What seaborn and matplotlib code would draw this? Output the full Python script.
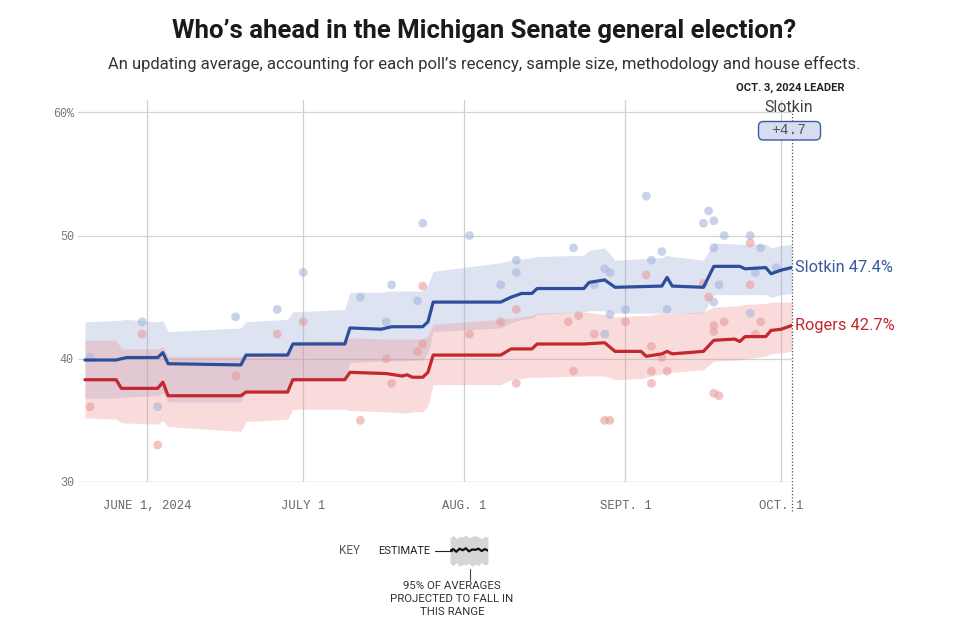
import matplotlib
matplotlib.use("Agg")
import matplotlib.pyplot as plt
from matplotlib.patches import FancyBboxPatch
import seaborn as sns
import pandas as pd

# ---------------- data ----------------
slotkin_dates = ["2024-05-20", "2024-05-26", "2024-05-28", "2024-06-03", "2024-06-04", "2024-06-05",
                 "2024-06-19", "2024-06-20", "2024-06-28", "2024-06-29", "2024-07-09", "2024-07-10",
                 "2024-07-16", "2024-07-18", "2024-07-24", "2024-07-25", "2024-07-26", "2024-08-08",
                 "2024-08-10", "2024-08-12", "2024-08-14", "2024-08-15", "2024-08-24", "2024-08-25",
                 "2024-08-28", "2024-08-30", "2024-09-08", "2024-09-09", "2024-09-10", "2024-09-16",
                 "2024-09-18", "2024-09-23", "2024-09-24", "2024-09-28", "2024-09-29", "2024-10-01",
                 "2024-10-03"]
slotkin_avg = [39.9, 39.9, 40.1, 40.1, 40.5, 39.6,
               39.5, 40.3, 40.3, 41.2, 41.2, 42.5,
               42.4, 42.6, 42.6, 43.0, 44.6, 44.6,
               45.0, 45.3, 45.3, 45.7, 45.7, 46.2,
               46.4, 45.8, 45.9, 46.6, 45.9, 45.8,
               47.5, 47.5, 47.3, 47.4, 46.9, 47.2,
               47.4]
slotkin_lo = [36.8, 36.8, 36.9, 37.0, 37.2, 36.5,
              36.5, 37.4, 37.5, 38.2, 38.3, 39.7,
              39.8, 39.8, 39.9, 40.5, 42.2, 42.5,
              42.9, 43.2, 43.3, 43.6, 43.8, 43.9,
              43.9, 43.7, 43.7, 43.8, 43.7, 43.7,
              45.2, 45.2, 45.2, 45.2, 45.0, 45.2,
              45.3]
slotkin_hi = [43.0, 43.1, 43.2, 43.0, 43.1, 42.2,
              42.5, 43.0, 43.2, 43.8, 44.0, 45.4,
              45.4, 45.5, 45.5, 46.0, 47.1, 47.8,
              48.0, 48.1, 48.2, 48.3, 48.4, 48.8,
              49.0, 48.0, 48.2, 48.4, 48.3, 48.0,
              49.4, 49.3, 49.3, 49.3, 49.0, 49.2,
              49.3]

rogers_dates = ["2024-05-20", "2024-05-26", "2024-05-27", "2024-06-03", "2024-06-04", "2024-06-05",
                "2024-06-19", "2024-06-20", "2024-06-28", "2024-06-29", "2024-07-09", "2024-07-10",
                "2024-07-17", "2024-07-20", "2024-07-21", "2024-07-22", "2024-07-24", "2024-07-25",
                "2024-07-26", "2024-08-08", "2024-08-10", "2024-08-14", "2024-08-15", "2024-08-24",
                "2024-08-28", "2024-08-30", "2024-09-04", "2024-09-05", "2024-09-08", "2024-09-09",
                "2024-09-10", "2024-09-16", "2024-09-18", "2024-09-22", "2024-09-23", "2024-09-24",
                "2024-09-28", "2024-09-29", "2024-10-01", "2024-10-03"]
rogers_avg = [38.3, 38.3, 37.6, 37.6, 38.1, 37.0,
              37.0, 37.3, 37.3, 38.3, 38.3, 38.9,
              38.8, 38.6, 38.7, 38.5, 38.5, 38.9,
              40.3, 40.3, 40.8, 40.8, 41.2, 41.2,
              41.3, 40.6, 40.6, 40.2, 40.4, 40.6,
              40.4, 40.6, 41.5, 41.6, 41.4, 41.8,
              41.8, 42.3, 42.4, 42.7]
rogers_lo = [35.2, 35.1, 34.8, 34.7, 35.0, 34.5,
             34.1, 34.9, 35.1, 35.9, 35.9, 35.8,
             35.7, 35.6, 35.6, 35.7, 35.7, 36.2,
             37.9, 37.9, 38.3, 38.5, 38.5, 38.6,
             38.6, 38.3, 38.4, 38.5, 38.8, 38.9,
             38.9, 39.1, 39.8, 39.9, 39.9, 40.0,
             40.2, 40.4, 40.5, 40.6]
rogers_hi = [41.5, 41.5, 40.8, 40.8, 41.0, 40.2,
             40.2, 40.4, 40.5, 41.4, 41.5, 41.7,
             41.6, 41.6, 41.6, 41.6, 41.6, 41.9,
             42.8, 43.2, 43.3, 43.5, 43.7, 43.8,
             43.6, 43.4, 43.5, 43.5, 43.7, 43.7,
             43.7, 43.8, 44.2, 44.3, 44.3, 44.4,
             44.5, 44.6, 44.6, 44.6]

slotkin_poll_dates = ["2024-05-21", "2024-05-31", "2024-06-03", "2024-06-18", "2024-06-26", "2024-07-01",
                      "2024-07-12", "2024-07-17", "2024-07-18", "2024-07-23", "2024-07-24", "2024-08-02",
                      "2024-08-08", "2024-08-11", "2024-08-11", "2024-08-22", "2024-08-26", "2024-08-28",
                      "2024-08-29", "2024-08-28", "2024-08-29", "2024-09-01", "2024-09-05", "2024-09-06",
                      "2024-09-08", "2024-09-09", "2024-09-17", "2024-09-16", "2024-09-18", "2024-09-20",
                      "2024-09-18", "2024-09-25", "2024-09-27", "2024-09-19", "2024-09-18", "2024-09-26",
                      "2024-09-30", "2024-09-25"]
slotkin_poll_vals = [40.1, 43.0, 36.1, 43.4, 44.0, 47.0,
                     45.0, 43.0, 46.0, 44.7, 51.0, 50.0,
                     46.0, 48.0, 47.0, 49.0, 46.0, 47.3,
                     47.0, 42.0, 43.6, 44.0, 53.2, 48.0,
                     48.7, 44.0, 52.0, 51.0, 51.2, 50.0,
                     49.0, 50.0, 49.0, 46.0, 44.6, 47.0,
                     47.4, 43.7]

rogers_poll_dates = ["2024-05-21", "2024-05-31", "2024-06-03", "2024-06-18", "2024-06-26", "2024-07-01",
                     "2024-07-12", "2024-07-17", "2024-07-18", "2024-07-24", "2024-07-23", "2024-07-24",
                     "2024-08-02", "2024-08-08", "2024-08-11", "2024-08-11", "2024-08-21", "2024-08-22",
                     "2024-08-23", "2024-08-26", "2024-09-01", "2024-09-05", "2024-09-06", "2024-09-08",
                     "2024-09-06", "2024-09-09", "2024-09-06", "2024-08-28", "2024-08-29", "2024-09-16",
                     "2024-09-17", "2024-09-18", "2024-09-18", "2024-09-20", "2024-09-25", "2024-09-25",
                     "2024-09-27", "2024-09-26", "2024-09-18", "2024-09-19"]
rogers_poll_vals = [36.1, 42.0, 33.0, 38.6, 42.0, 43.0,
                    35.0, 40.0, 38.0, 45.9, 40.6, 41.2,
                    42.0, 43.0, 44.0, 38.0, 43.0, 39.0,
                    43.5, 42.0, 43.0, 46.8, 41.0, 40.1,
                    39.0, 39.0, 38.0, 35.0, 35.0, 46.1,
                    45.0, 42.7, 42.2, 43.0, 49.4, 46.0,
                    43.0, 42.0, 37.2, 37.0]

candidates = ["Slotkin", "Rogers"]
final_values = [47.4, 42.7]
y_ticks = [30, 40, 50, 60]
y_tick_labels = ["30", "40", "50", "60%"]
x_ticks = ["2024-06-01", "2024-07-01", "2024-08-01", "2024-09-01", "2024-10-01"]
x_tick_labels = ["JUNE 1, 2024", "JULY 1", "AUG. 1", "SEPT. 1", "OCT. 1"]
leader_date = "2024-10-03"
leader_name = "Slotkin"
leader_margin = "+4.7"

key_mid = [0.0, 0.25, -0.1, 0.3, 0.1, 0.35, -0.05, 0.2, 0.15, 0.3, 0.0, 0.25, 0.05]
key_lo = [-1.6, -1.9, -1.5, -2.0, -1.7, -1.8, -1.6, -2.0, -1.7, -1.9, -1.5, -1.8, -1.7]
key_hi = [1.7, 2.0, 1.6, 1.9, 1.8, 2.1, 1.7, 1.9, 2.0, 1.8, 1.6, 1.9, 1.8]

# ---------------- styling ----------------
sns.set_theme(style="white")
plt.rcParams['font.family'] = ['Liberation Sans Narrow', 'Roboto', 'DejaVu Sans']

BLUE = "#2d4e9b"
RED = "#c2282d"
BLUE_BAND = "#94a5d4"
RED_BAND = "#ee8a8a"
BLUE_DOT = "#a6b5de"
RED_DOT = "#e89c9c"
MONO = ['Liberation Mono', 'DejaVu Sans Mono']
SANS = ['Roboto', 'DejaVu Sans']

W, H = 960, 633
fig = plt.figure(figsize=(W / 100, H / 100), dpi=100)
fig.patch.set_facecolor("white")

def fx(px):
    return px / W

def fy(py):
    return 1 - py / H

ax = fig.add_axes([fx(78), fy(482), fx(792) - fx(78), fy(100) - fy(482)])

lines = pd.concat([
    pd.DataFrame({"date": pd.to_datetime(slotkin_dates), "avg": slotkin_avg,
                  "lo": slotkin_lo, "hi": slotkin_hi, "cand": "Slotkin"}),
    pd.DataFrame({"date": pd.to_datetime(rogers_dates), "avg": rogers_avg,
                  "lo": rogers_lo, "hi": rogers_hi, "cand": "Rogers"}),
])
polls = pd.concat([
    pd.DataFrame({"date": pd.to_datetime(slotkin_poll_dates), "val": slotkin_poll_vals, "cand": "Slotkin"}),
    pd.DataFrame({"date": pd.to_datetime(rogers_poll_dates), "val": rogers_poll_vals, "cand": "Rogers"}),
])

# gridlines
for yv in y_ticks[1:]:
    ax.axhline(yv, color="#d4d4d4", lw=0.9, zorder=0)
ax.axhline(y_ticks[0], color="#bdbdbd", lw=1.0, zorder=0)
for xv in pd.to_datetime(x_ticks):
    ax.axvline(xv, color="#cfcfcf", lw=0.9, zorder=0)

# bands
for cand, col in [("Slotkin", BLUE_BAND), ("Rogers", RED_BAND)]:
    d = lines[lines.cand == cand]
    ax.fill_between(d["date"], d["lo"], d["hi"], color=col, alpha=0.3, lw=0, zorder=1)

# polls
sns.scatterplot(data=polls, x="date", y="val", hue="cand",
                palette={"Slotkin": BLUE_DOT, "Rogers": RED_DOT},
                s=40, alpha=0.6, edgecolor="none", legend=False, ax=ax, zorder=2)

# averages
sns.lineplot(data=lines, x="date", y="avg", hue="cand",
             palette={"Slotkin": BLUE, "Rogers": RED},
             lw=2.3, legend=False, ax=ax, zorder=3, estimator=None, sort=False)

start = pd.Timestamp(slotkin_dates[0])
end = pd.Timestamp(leader_date)
ax.set_xlim(start - pd.Timedelta(hours=32), end + pd.Timedelta(hours=1))
ax.set_ylim(30, 61)

for s in ax.spines.values():
    s.set_visible(False)

ax.set_yticks(y_ticks)
ax.set_yticklabels(y_tick_labels, family=MONO, fontsize=8.5, color="#777777")
ax.tick_params(axis="y", length=0, pad=3)
ax.set_xticks(pd.to_datetime(x_ticks))
ax.set_xticklabels(x_tick_labels, family=MONO, fontsize=8.8, color="#666666")
ax.tick_params(axis="x", length=7, width=0.9, color="#cfcfcf", pad=6, direction="out")
ax.set_xlabel("")
ax.set_ylabel("")
ax.grid(False)

# leader dotted line
ax.axvline(end, ymin=-0.075, ymax=0.975, color="#555555", lw=0.9,
           linestyle=(0, (1, 1.6)), clip_on=False, zorder=4)

# end labels
for cand, val, col in zip(candidates, final_values, ["#3a5aa0", RED]):
    ax.annotate(f"{cand} {val}%", xy=(end, val), xytext=(2, 0), textcoords="offset points",
                ha="left", va="center", fontsize=11.8, color=col,
                family=SANS, annotation_clip=False)

# title & subtitle
fig.text(fx(484), fy(31), "Who\u2019s ahead in the Michigan Senate general election?",
         ha="center", va="center", fontsize=18.5, fontweight="bold", color="#1a1a1a")
fig.text(fx(484), fy(64), "An updating average, accounting for each poll\u2019s recency, sample size, "
         "methodology and house effects.", ha="center", va="center", fontsize=12, color="#333333")

# leader annotation
fig.text(fx(790), fy(88), "OCT. 3, 2024 LEADER", ha="center", va="center",
         fontsize=8, fontweight="bold", color="#222222", family=SANS)
fig.text(fx(789), fy(107), leader_name, ha="center", va="center", fontsize=11.5, color="#444444",
         family=SANS)
box = FancyBboxPatch((7.585, (H - 140) / 100), 0.62, 0.185,
                     boxstyle="round,pad=0,rounding_size=0.05",
                     transform=fig.dpi_scale_trans, fc="#d6ddf0", ec="#3d5a9e", lw=1.0, zorder=5)
fig.add_artist(box)
fig.text(fx(789), fy(130.5), leader_margin, ha="center", va="center", fontsize=10.5, color="#555555",
         family=MONO, zorder=6)

# key
fig.text(fx(350), fy(551), "KEY", ha="center", va="center", fontsize=8.5, color="#555555",
         family=SANS)
fig.text(fx(404), fy(551), "ESTIMATE", ha="center", va="center", fontsize=8, color="#222222",
         family=SANS)
fig.add_artist(plt.Line2D([fx(435), fx(452)], [fy(551), fy(551)], color="#222222", lw=0.8))
fig.add_artist(plt.Line2D([fx(470), fx(470)], [fy(569), fy(580)], color="#444444", lw=0.8))
kax = fig.add_axes([fx(450), fy(568), fx(488) - fx(450), fy(534) - fy(568)])
kx = list(range(len(key_mid)))
kax.fill_between(kx, key_lo, key_hi, color="#d6d6d6", lw=0)
kax.plot(kx, key_mid, color="#111111", lw=1.6)
kax.set_xlim(0, len(key_mid) - 1)
kax.set_ylim(-2.2, 2.2)
kax.axis("off")
fig.text(fx(452), fy(599), "95% OF AVERAGES\nPROJECTED TO FALL IN\nTHIS RANGE", ha="center", va="center",
         fontsize=8.2, color="#333333", linespacing=1.4, family=SANS)

fig.savefig("out.png", dpi=100, facecolor="white")
